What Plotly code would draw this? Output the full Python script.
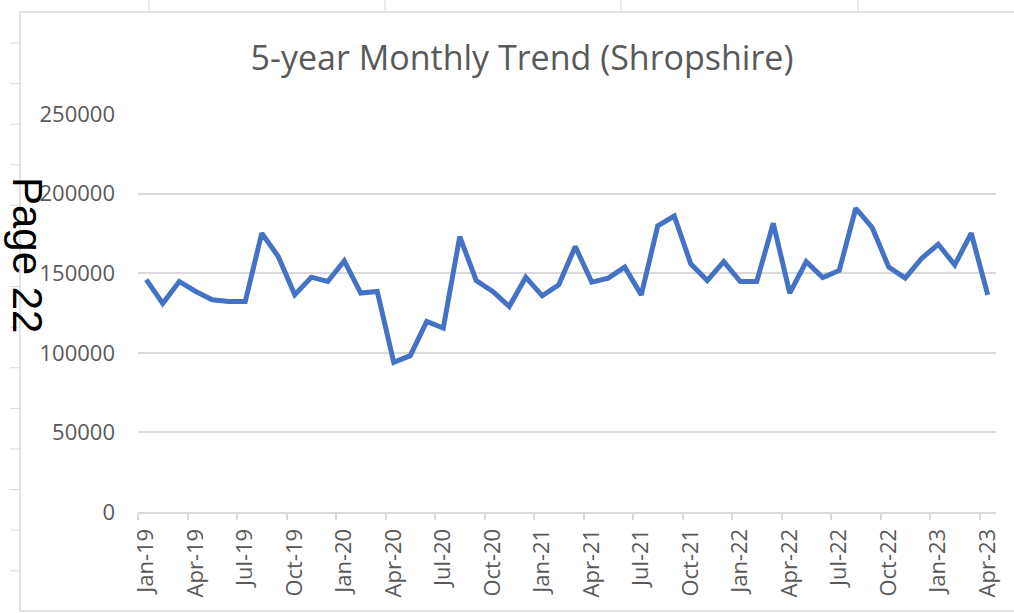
import plotly.graph_objects as go
import pandas as pd

# monthly totals, Jan 2019 - Apr 2023
months = pd.date_range("2019-01-01", "2023-04-01", freq="MS").strftime("%b-%y").tolist()
values = [
    146000, 131000, 144800, 138500, 133300, 132200, 132200, 175100, 160500, 136400, 147500, 144800,  # 2019
    157700, 137500, 138500, 94000, 98200, 119700, 115500, 173000, 145400, 138500, 129100, 147500,   # 2020
    135800, 142700, 166700, 144400, 146900, 153800, 136400, 179700, 185900, 155900, 145400, 157300,  # 2021
    144800, 144800, 181400, 137500, 157300, 147300, 151700, 190800, 178600, 153800, 146900, 159400,  # 2022
    168200, 155200, 175100, 136400,  # 2023
]
y_ticks = [0, 50000, 100000, 150000, 200000, 250000]

W, H = 1014, 613
L, R, T, B = 138, 996, 114, 512  # plot area in pixels
GREY = "#595959"
LIGHT = "#d9d9d9"


def px(x):
    return (x - L) / (R - L)


def py(y):
    return (B - y) / (B - T)


fig = go.Figure()
fig.add_trace(go.Scatter(
    x=months, y=values,
    mode="lines",
    line=dict(color="#4472C4", width=5),
    showlegend=False,
))

shapes = [
    # outer chart frame
    dict(type="rect", xref="paper", yref="paper",
         x0=px(20), x1=px(1016), y0=py(611), y1=py(12),
         line=dict(color=LIGHT, width=1.5), layer="below"),
]
# page ruler marks left and top
for i in range(14):
    yy = 43 + 40.6 * i
    shapes.append(dict(type="line", xref="paper", yref="paper",
                       x0=px(10), x1=px(20), y0=py(yy), y1=py(yy),
                       line=dict(color=LIGHT, width=1)))
for xx in [149, 385, 621, 858]:
    shapes.append(dict(type="line", xref="paper", yref="paper",
                       x0=px(xx), x1=px(xx), y0=py(0), y1=py(12),
                       line=dict(color=LIGHT, width=1)))

fig.update_layout(
    width=W, height=H,
    margin=dict(l=L, r=W - R, t=T, b=H - B),
    plot_bgcolor="white",
    paper_bgcolor="white",
    font=dict(family="Open Sans", color=GREY),
    title=dict(
        text="5-year Monthly Trend (Shropshire)",
        x=px(522), xanchor="center", xref="paper",
        y=1 - 58 / H, yanchor="middle",
        font=dict(size=34, color=GREY, family="Open Sans"),
    ),
    xaxis=dict(
        type="category",
        range=[-0.5, len(months) - 0.5],
        dtick=3,
        tickangle=-90,
        tickson="boundaries",
        ticks="outside", ticklen=6, tickcolor=LIGHT, tickwidth=1.5,
        showgrid=False,
        showline=True, linecolor=LIGHT, linewidth=2,
        tickfont=dict(size=22, color=GREY),
        ticklabelstandoff=6,
    ),
    yaxis=dict(
        range=[0, 250000],
        tickvals=y_ticks,
        tickformat="d",
        showgrid=True, gridcolor=LIGHT, gridwidth=2,
        zeroline=False,
        tickfont=dict(size=22, color=GREY),
        ticklabelstandoff=22,
    ),
    shapes=shapes,
    annotations=[dict(
        text="Page 22",
        xref="paper", yref="paper",
        x=px(28), y=py(255),
        xanchor="center", yanchor="middle",
        showarrow=False,
        textangle=90,
        font=dict(family="Liberation Sans", size=42, color="black"),
    )],
)

fig.write_html("out.html", config={"displayModeBar": False},
               post_script="document.body.style.margin='0';")
